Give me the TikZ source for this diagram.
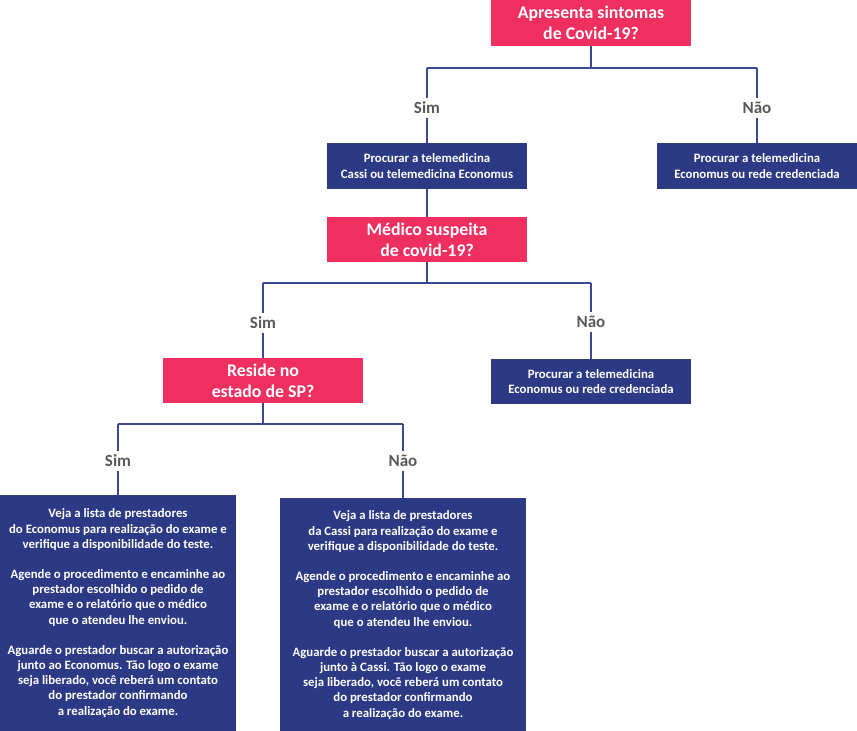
\documentclass[tikz,border=0pt]{standalone}
\usepackage{fontspec}
\setmainfont{Carlito}
\definecolor{rosa}{HTML}{EE2F5F}
\definecolor{azul}{HTML}{2C3A86}
\definecolor{linha}{HTML}{3A4896}
\definecolor{cinza}{HTML}{595959}

\begin{document}
\begin{tikzpicture}[x=1pt,y=-1pt]
\tikzstyle{every node}=[align=center,text=white,inner sep=0pt]
\tikzstyle{pergunta}=[fill=rosa,minimum width=200pt,minimum height=45pt,font=\fontsize{17.8}{21}\selectfont\bfseries]
\tikzstyle{caixa}=[fill=azul,minimum width=200pt,minimum height=46pt,font=\fontsize{12.8}{15.2}\selectfont\bfseries]
\tikzstyle{resposta}=[text=cinza,inner sep=3.5pt,font=\fontsize{17}{20}\selectfont\bfseries]
\tikzstyle{ramo}=[draw=linha,line width=1.1pt]
\useasboundingbox (0,0) rectangle (857,731);
\node [pergunta,minimum height=46pt] (q1) at (591,23) {Apresenta sintomas\\de Covid-19?};
\node [caixa] (b1) at (427,166) {Procurar a telemedicina\\Cassi ou telemedicina Economus};
\node [caixa] (b2) at (757,166) {Procurar a telemedicina\\Economus ou rede credenciada};
\node [pergunta] (q2) at (427,239.5) {Médico suspeita\\de covid-19?};
\node [caixa,minimum height=45pt] (b3) at (591,381.5) {Procurar a telemedicina\\Economus ou rede credenciada};
\node [pergunta] (q3) at (263,380.5) {Reside no\\estado de SP?};
\node [caixa,minimum width=236pt,minimum height=236pt] (b4) at (118,613) {Veja a lista de prestadores\\do Economus para realização do exame e\\verifique a disponibilidade do teste.\\[15pt]Agende o procedimento e encaminhe ao\\prestador escolhido o pedido de\\exame e o relatório que o médico\\que o atendeu lhe enviou.\\[15pt]Aguarde o prestador buscar a autorização\\junto ao Economus. Tão logo o exame\\seja liberado, você reberá um contato\\do prestador confirmando\\a realização do exame.};
\node [caixa,minimum width=246pt,minimum height=234pt] (b5) at (403,615) {Veja a lista de prestadores\\da Cassi para realização do exame e\\verifique a disponibilidade do teste.\\[15pt]Agende o procedimento e encaminhe ao\\prestador escolhido o pedido de\\exame e o relatório que o médico\\que o atendeu lhe enviou.\\[15pt]Aguarde o prestador buscar a autorização\\junto à Cassi. Tão logo o exame\\seja liberado, você reberá um contato\\do prestador confirmando\\a realização do exame.};
\node [resposta] (s1) at (427,108) {Sim};
\node [resposta] (n1) at (757,108) {Não};
\node [resposta] (s2) at (263,323) {Sim};
\node [resposta] (n2) at (591,322) {Não};
\node [resposta] (s3) at (118,461) {Sim};
\node [resposta] (n3) at (403,461) {Não};
\coordinate (j1) at (591,68);
\coordinate (j2) at (427,283);
\coordinate (j3) at (263,424);
\draw [ramo] (q1) -- (j1);
\draw [ramo] (s1 |- j1) -- (n1 |- j1);
\draw [ramo] (s1 |- j1) -- (s1);
\draw [ramo] (n1 |- j1) -- (n1);
\draw [ramo] (s1) -- (b1);
\draw [ramo] (n1) -- (b2);
\draw [ramo] (b1) -- (q2);
\draw [ramo] (q2) -- (j2);
\draw [ramo] (s2 |- j2) -- (n2 |- j2);
\draw [ramo] (s2 |- j2) -- (s2);
\draw [ramo] (n2 |- j2) -- (n2);
\draw [ramo] (s2) -- (q3);
\draw [ramo] (n2) -- (b3);
\draw [ramo] (q3) -- (j3);
\draw [ramo] (s3 |- j3) -- (n3 |- j3);
\draw [ramo] (s3 |- j3) -- (s3);
\draw [ramo] (n3 |- j3) -- (n3);
\draw [ramo] (s3) -- (b4);
\draw [ramo] (n3) -- (b5);
\end{tikzpicture}
\end{document}
